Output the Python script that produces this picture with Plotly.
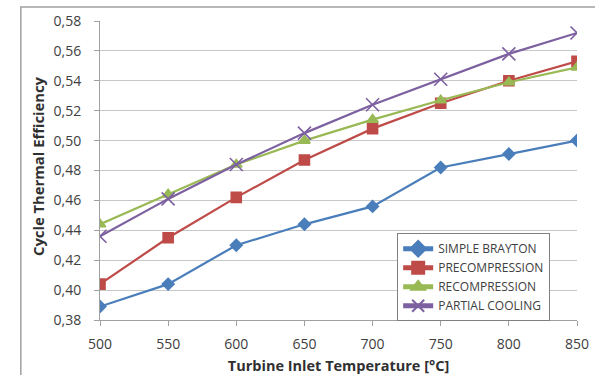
import plotly.graph_objects as go

temps = [500, 550, 600, 650, 700, 750, 800, 850]
simple_brayton = [0.389, 0.404, 0.430, 0.444, 0.456, 0.482, 0.491, 0.500]
precompression = [0.404, 0.435, 0.462, 0.487, 0.508, 0.525, 0.540, 0.553]
recompression = [0.444, 0.464, 0.484, 0.500, 0.514, 0.527, 0.539, 0.549]
partial_cooling = [0.436, 0.461, 0.484, 0.505, 0.524, 0.541, 0.558, 0.572]
y_ticks = [0.38, 0.40, 0.42, 0.44, 0.46, 0.48, 0.50, 0.52, 0.54, 0.56, 0.58]
y_tick_labels = ["0,38", "0,40", "0,42", "0,44", "0,46", "0,48", "0,50", "0,52", "0,54", "0,56", "0,58"]

series = [
    ("SIMPLE BRAYTON", simple_brayton, "#4a7ebb", "diamond", 9),
    ("PRECOMPRESSION", precompression, "#be4b48", "square", 10),
    ("RECOMPRESSION", recompression, "#98b954", "triangle-up", 10),
    ("PARTIAL COOLING", partial_cooling, "#7d60a0", "x-thin", 13),
]

fig = go.Figure()
for name, vals, color, sym, size in series:
    fig.add_trace(go.Scatter(
        x=temps, y=vals, name=name, mode="lines+markers",
        line=dict(color=color, width=2.2),
        marker=dict(symbol=sym, size=size, color=color,
                    line=dict(color=color, width=1.6)),
    ))

font_fam = "Open Sans, Liberation Sans, sans-serif"
fig.update_layout(
    width=595, height=375,
    margin=dict(l=100, r=18, t=21, b=55),
    paper_bgcolor="white", plot_bgcolor="white",
    font=dict(family=font_fam, size=14, color="#404040"),
    showlegend=True,
    legend=dict(
        x=0.623, y=0.29, xanchor="left", yanchor="top",
        bgcolor="white", bordercolor="#808080", borderwidth=1,
        font=dict(size=12, color="#404040"),
        tracegroupgap=0, itemsizing="constant", itemwidth=30,
    ),
    xaxis=dict(
        range=[500, 850], tickvals=temps, ticks="outside", ticklen=5,
        tickcolor="#a0a0a0", showgrid=False, showline=True,
        linecolor="#a0a0a0", zeroline=False, ticklabelstandoff=6,
        automargin=False,
        title=dict(text="<b>Turbine Inlet Temperature [°C]</b>",
                   font=dict(size=14.5, color="#303030"), standoff=11),
    ),
    yaxis=dict(
        range=[0.38, 0.58], tickvals=y_ticks, ticktext=y_tick_labels,
        ticks="outside", ticklen=5, tickcolor="#a0a0a0",
        showgrid=True, gridcolor="#c8c8c8", gridwidth=1,
        showline=True, linecolor="#a0a0a0", zeroline=False,
        ticklabelstandoff=10, automargin=False,
    ),
    annotations=[dict(
        text="<b>Cycle Thermal Efficiency</b>", textangle=-90,
        xref="paper", yref="paper", x=-0.130, y=0.515,
        xanchor="center", yanchor="middle", showarrow=False,
        font=dict(size=14.8, color="#303030"),
    )],
    shapes=[dict(type="rect", xref="paper", yref="paper",
                 x0=-0.166, x1=1.1, y0=-0.3, y1=1.047,
                 line=dict(color="#a0a0a0", width=1.5), layer="below")],
)

fig.write_html(
    "out.html",
    config={"displayModeBar": False},
    post_script="document.body.style.margin='0';"
                "document.documentElement.style.overflow='hidden';"
                "document.body.style.overflow='hidden';",
)
